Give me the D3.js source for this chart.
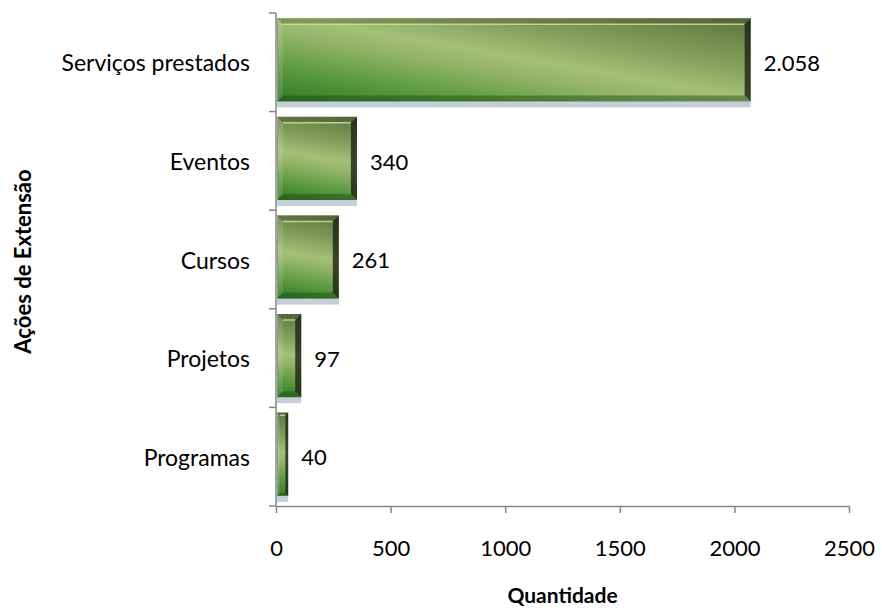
<!DOCTYPE html>
<html><head><meta charset="utf-8">
<script src="https://cdn.jsdelivr.net/npm/d3@7"></script>
<style>
html,body{margin:0;padding:0;background:#fff;}
svg{display:block;font-family:Lato, "Open Sans", sans-serif;}
</style></head>
<body><div id="chart"></div>
<script>
const categories = ["Serviços prestados","Eventos","Cursos","Projetos","Programas"];
const values = [2058, 340, 261, 97, 40];
const xTicks = [0, 500, 1000, 1500, 2000, 2500];
const xTitle = "Quantidade";
const yTitle = "Ações de Extensão";

const W = 882, H = 611;
const m = {left: 276, right: 33, top: 13, bottom: 105};
const svg = d3.select("#chart").append("svg").attr("width", W).attr("height", H);
svg.append("rect").attr("width", W).attr("height", H).attr("fill", "#fff");

const x = d3.scaleLinear().domain([0, 2500]).range([m.left, W - m.right]);
const y = d3.scaleBand().domain(categories).range([m.top, H - m.bottom]).paddingInner(0.085).paddingOuter(0.0425);
const yEdges = d3.scaleLinear().domain([0, categories.length]).range([m.top, H - m.bottom]);
const fmt = d3.formatLocale({decimal: ",", thousands: ".", grouping: [3], currency: ["R$", ""]}).format(",d");

const defs = svg.append("defs");
const stripH = 6;
const edgeOut = 3;
const angle = 10 * Math.PI / 180;
const nx = -Math.sin(angle), ny = Math.cos(angle);

const barsG = svg.append("g");
categories.forEach((c, i) => {
  const v = values[i];
  const x0 = x(0) + 1, x1 = x(v) + edgeOut;
  const w = x1 - x0;
  const y0 = y(c) + 1;
  const h = y.bandwidth() - stripH - 1;
  const cx = x0 + w / 2, cy = y0 + h / 2;
  const E = Math.abs(nx) * w / 2 + ny * h / 2;
  const gid = "g" + i;
  const g = defs.append("linearGradient").attr("id", gid).attr("gradientUnits", "userSpaceOnUse")
    .attr("x1", cx - nx * E).attr("y1", cy - ny * E)
    .attr("x2", cx + nx * E).attr("y2", cy + ny * E);
  [[0, "#5c703e"], [0.12, "#6c8648"], [0.3, "#84a05b"], [0.48, "#a3c077"], [0.58, "#95b66a"],
   [0.8, "#5a983f"], [1, "#2f7a23"]].forEach(s => g.append("stop").attr("offset", s[0]).attr("stop-color", s[1]));

  barsG.append("rect").attr("x", x0).attr("y", y0 + h).attr("width", w).attr("height", stripH)
    .attr("fill", "#c4cfdb");
  barsG.append("rect").attr("x", x0).attr("y", y0).attr("width", w).attr("height", h).attr("fill", `url(#${gid})`);
  const b = Math.min(6, w / 4);
  const poly = (pts, fill, op) => barsG.append("polygon").attr("points", pts.map(p => p.join(",")).join(" "))
    .attr("fill", fill).attr("opacity", op);
  poly([[x0, y0], [x1, y0], [x1 - b, y0 + b], [x0 + b, y0 + b]], "#3f4f28", 0.35);
  barsG.append("line").attr("x1", x0 + b).attr("x2", x1 - b).attr("y1", y0 + b).attr("y2", y0 + b)
    .attr("stroke", "#d4e6a8").attr("stroke-width", 1.5).attr("opacity", 0.8);
  poly([[x1, y0], [x1, y0 + h], [x1 - b, y0 + h - b], [x1 - b, y0 + b]], "#1c2414", 0.8);
  poly([[x0, y0 + h], [x1, y0 + h], [x1 - b, y0 + h - b], [x0 + b, y0 + h - b]], "#1f4a14", 0.45);
  poly([[x0, y0], [x0, y0 + h], [x0 + b, y0 + h - b], [x0 + b, y0 + b]], "#ffffff", 0.12);
  barsG.append("line").attr("x1", x0 + 0.5).attr("x2", x0 + 0.5).attr("y1", y0).attr("y2", y0 + h)
    .attr("stroke", "#8e9a86").attr("stroke-width", 1);

  svg.append("text").attr("x", x1 + 13).attr("y", y(c) + y.bandwidth() / 2 + 1)
    .attr("dy", "0.35em").attr("font-size", 22).attr("fill", "#000").text(fmt(v));
});

const axisColor = "#868686";
const yAxis = svg.append("g");
yAxis.append("line").attr("x1", m.left).attr("x2", m.left).attr("y1", m.top).attr("y2", H - m.bottom)
  .attr("stroke", axisColor).attr("stroke-width", 1.5);
d3.range(categories.length + 1).forEach(k => {
  yAxis.append("line").attr("x1", m.left - 7).attr("x2", m.left).attr("y1", yEdges(k)).attr("y2", yEdges(k))
    .attr("stroke", axisColor).attr("stroke-width", 1.5);
});
categories.forEach(c => {
  yAxis.append("text").attr("x", 250).attr("y", y(c) + y.bandwidth() / 2 + 1).attr("dy", "0.35em")
    .attr("text-anchor", "end").attr("font-size", 23).attr("fill", "#000").text(c);
});

const xAxis = svg.append("g").attr("transform", `translate(0,${H - m.bottom})`)
  .call(d3.axisBottom(x).tickValues(xTicks).tickFormat(d3.format("d")).tickSize(7).tickPadding(27).tickSizeOuter(0));
xAxis.select(".domain").attr("stroke", axisColor).attr("stroke-width", 1.5);
xAxis.selectAll(".tick line").attr("stroke", axisColor).attr("stroke-width", 1.5);
xAxis.selectAll(".tick text").attr("font-size", 22).attr("fill", "#000").attr("font-family", "Lato, sans-serif");

svg.append("text").attr("x", (x(0) + x(2500)) / 2).attr("y", 596).attr("dy", "0.35em")
  .attr("text-anchor", "middle").attr("font-size", 21).attr("font-weight", "bold").text(xTitle);
svg.append("text").attr("transform", `translate(23,${(m.top + H - m.bottom) / 2 + 2}) rotate(-90)`)
  .attr("dy", "0.35em").attr("text-anchor", "middle").attr("font-size", 22).attr("font-weight", "bold").text(yTitle);
</script></body></html>
